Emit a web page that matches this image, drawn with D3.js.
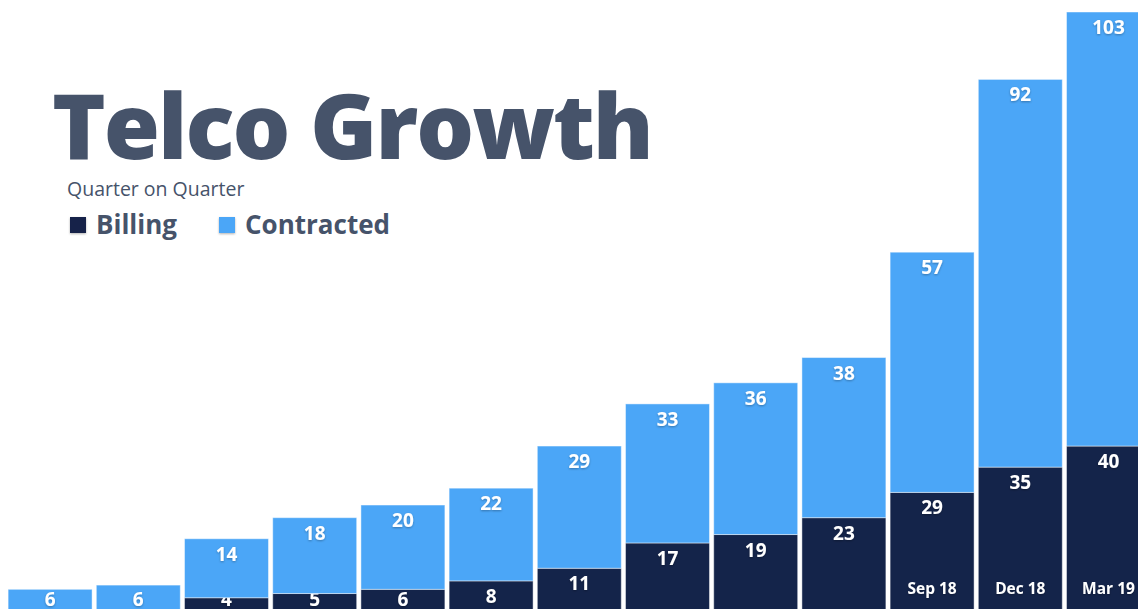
<!DOCTYPE html>
<html>
<head>
<meta charset="utf-8">
<script src="https://cdn.jsdelivr.net/npm/d3@7"></script>
<style>
  html, body { margin: 0; padding: 0; background: #fff; overflow: hidden; }
  svg { display: block; font-family: "Open Sans", sans-serif; }
</style>
</head>
<body>
<div id="chart"></div>
<script>
// quarters, oldest first
var quarters = ["Mar 16", "Jun 16", "Sep 16", "Dec 16", "Mar 17", "Jun 17", "Sep 17",
                "Dec 17", "Mar 18", "Jun 18", "Sep 18", "Dec 18", "Mar 19"];
var billing = [0, 1, 4, 5, 6, 8, 11, 17, 19, 23, 29, 35, 40];
var contracted = [6, 6, 14, 18, 20, 22, 29, 33, 36, 38, 57, 92, 103];
// only these quarter names are visible in the picture
var shownQuarters = ["Sep 18", "Dec 18", "Mar 19"];

var width = 1138,
    height = 609;

var navy = "#14244a",
    blue = "#4ba6f7",
    slate = "#46536a";

var rows = quarters.map(function(q, i) {
  return { q: q, billing: billing[i], contracted: contracted[i] };
});

var stack = d3.stack().keys(["billing", "contracted"])(rows);

var x = d3.scaleBand()
    .domain(quarters)
    .range([6, 6 + 13 * 88.2])
    .paddingInner(0.048)
    .paddingOuter(0.024);

var y = d3.scaleLinear()
    .domain([0, 143])
    .range([614.6, 12]);

var color = d3.scaleOrdinal()
    .domain(["billing", "contracted"])
    .range([navy, blue]);

var svg = d3.select("#chart").append("svg")
    .attr("width", width)
    .attr("height", height);

var defs = svg.append("defs");
defs.append("filter")
    .attr("id", "shadow")
    .attr("x", "-20%").attr("y", "-20%")
    .attr("width", "140%").attr("height", "160%")
  .append("feDropShadow")
    .attr("dx", 0)
    .attr("dy", 1)
    .attr("stdDeviation", 1)
    .attr("flood-color", "#000")
    .attr("flood-opacity", 0.3);

// bars
var layer = svg.selectAll("g.layer")
    .data(stack)
  .enter().append("g")
    .attr("class", "layer")
    .attr("fill", function(d) { return color(d.key); });

layer.selectAll("rect")
    .data(function(d) { return d; })
  .enter().append("rect")
    .attr("x", function(d) { return x(d.data.q); })
    .attr("y", function(d) { return y(d[1]); })
    .attr("width", x.bandwidth())
    .attr("height", function(d) { return Math.max(0, y(d[0]) - y(d[1])); })
    .attr("stroke", "#fff")
    .attr("stroke-opacity", 0.45)
    .attr("stroke-width", 1);

// value labels, pushed up so the lowest ones still peek in
var maxLabelY = 606;
layer.selectAll("text")
    .data(function(d) {
      return d.map(function(p) { return { p: p, key: d.key }; })
              .filter(function(o) { return o.p.data[o.key] > 0; });
    })
  .enter().append("text")
    .attr("x", function(o) { return x(o.p.data.q) + x.bandwidth() / 2; })
    .attr("y", function(o) { return Math.min(y(o.p[1]) + 22, maxLabelY); })
    .attr("text-anchor", "middle")
    .attr("fill", "#fff")
    .attr("font-weight", 700)
    .attr("font-size", 19)
    .attr("filter", "url(#shadow)")
    .text(function(o) { return o.p.data[o.key]; });

// quarter axis, drawn inside the bars
var axis = svg.append("g")
    .attr("transform", "translate(0,580)")
    .call(d3.axisBottom(x).tickValues(shownQuarters).tickSize(0));
axis.select(".domain").remove();
axis.selectAll("text")
    .attr("fill", "#fff")
    .attr("font-family", "Open Sans, sans-serif")
    .attr("font-weight", 700)
    .attr("font-size", 15.5)
    .attr("filter", "url(#shadow)");

// title block
svg.append("text")
    .attr("x", 52)
    .attr("y", 159)
    .attr("fill", slate)
    .attr("font-weight", 800)
    .attr("font-size", 91)
    .attr("letter-spacing", -2)
    .text("Telco Growth");

svg.append("text")
    .attr("x", 67)
    .attr("y", 196)
    .attr("fill", slate)
    .attr("font-size", 19.5)
    .text("Quarter on Quarter");

var legend = svg.selectAll("g.legend")
    .data([{ key: "billing", label: "Billing", x: 70 }, { key: "contracted", label: "Contracted", x: 219 }])
  .enter().append("g")
    .attr("class", "legend")
    .attr("transform", function(d) { return "translate(" + d.x + ",217)"; });

legend.append("rect")
    .attr("width", 16)
    .attr("height", 16)
    .attr("fill", function(d) { return color(d.key); })
    .attr("filter", "url(#shadow)");

legend.append("text")
    .attr("x", 26)
    .attr("y", 17)
    .attr("fill", slate)
    .attr("font-weight", 700)
    .attr("font-size", 26)
    .text(function(d) { return d.label; });
</script>
</body>
</html>
